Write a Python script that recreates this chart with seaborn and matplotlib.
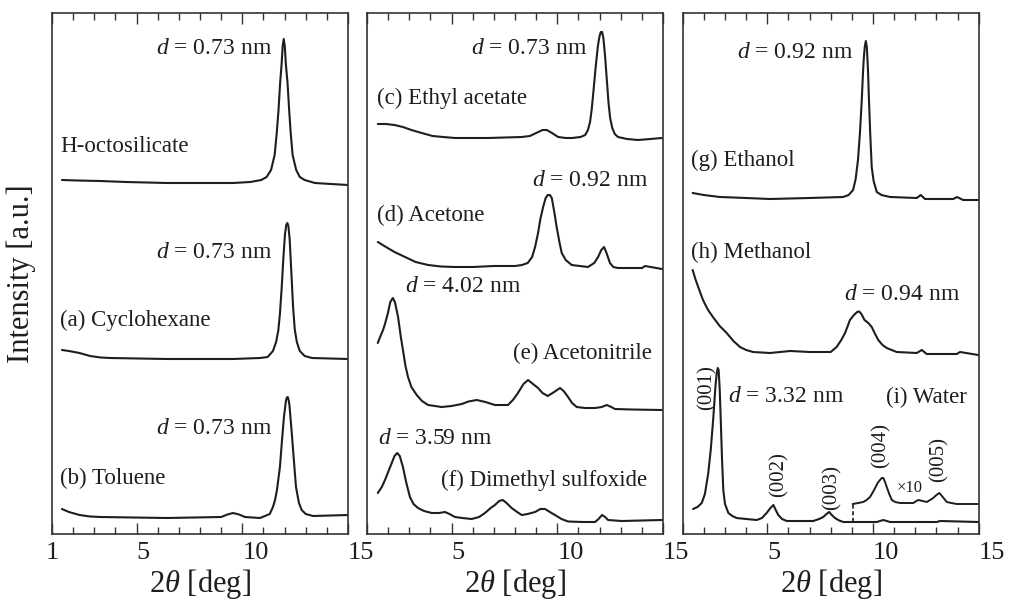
import matplotlib
matplotlib.use("Agg")
import matplotlib.pyplot as plt
import seaborn as sns
import pandas as pd

# ---------------- data (2theta in deg, intensity in a.u., stacked) ----------------
octo_x = [1.47, 2.2, 3.27, 4.5, 6.44, 9.56, 10.37, 10.9, 11.15, 11.36, 11.53, 11.63, 11.71, 11.79, 11.86,
          11.91, 11.96, 12.01, 12.06, 12.14, 12.22, 12.29, 12.38, 12.55, 12.72, 12.95, 13.44, 14.2, 15.0]
octo_y = [354, 353.5, 353, 352, 351, 351, 352, 354, 357, 364, 379, 401, 423, 451, 470,
          488, 495, 488, 470, 451, 423, 401, 379, 364, 357, 354, 351, 350, 349]

cyclo_x = [1.47, 1.8, 2.3, 2.8, 3.3, 3.74, 6.44, 9.56, 10.84, 11.2, 11.45, 11.6, 11.7, 11.78, 11.86,
           11.94, 12.02, 12.08, 12.13, 12.18, 12.24, 12.32, 12.40, 12.48, 12.58, 12.72, 12.95, 13.3, 15.0]
cyclo_y = [184, 183, 181, 178, 176.5, 176, 175, 175, 176, 177, 183, 192, 203, 220, 245,
           275, 300, 309, 311, 308, 295, 262, 228, 205, 192, 183, 178, 176, 175]

tol_x = [1.47, 1.8, 2.3, 2.8, 3.27, 6.44, 9.0, 9.3, 9.56, 9.85, 10.13, 10.84, 11.3, 11.45, 11.55, 11.64,
         11.78, 11.88, 11.97, 12.07, 12.11, 12.15, 12.19, 12.23, 12.34, 12.45, 12.54, 12.68, 12.81, 13.0,
         13.35, 15.0]
tol_y = [25, 22, 19, 17.5, 17, 16, 17, 19.5, 21, 19.5, 17, 16, 20, 27, 34, 44,
         67, 94, 117, 134, 136.5, 137, 134, 129, 101, 71, 47, 31, 24, 20,
         18, 19]

etac_x = [1.51, 1.9, 2.3, 2.7, 3.1, 3.59, 4.1, 4.6, 5.16, 6.72, 8.32, 8.7, 9.0, 9.3, 9.5, 9.75, 10.04,
          10.4, 10.7, 11.1, 11.32, 11.45, 11.55, 11.63, 11.72, 11.82, 11.92, 12.0, 12.06, 12.12, 12.18,
          12.26, 12.34, 12.42, 12.5, 12.6, 12.72, 12.87, 13.3, 13.82, 14.4, 14.95]
etac_y = [410, 410, 409, 407, 404, 401, 398, 397, 396, 396, 397, 398, 401, 404, 404, 401, 397,
          396, 396, 397, 399, 404, 412, 425, 445, 468, 488, 498, 502, 502, 496,
          478, 455, 432, 416, 406, 400, 397, 395, 394, 395, 396]

acet_x = [1.51, 1.9, 2.3, 2.8, 3.3, 3.89, 4.5, 5.16, 6.0, 7.0, 8.0, 8.33, 8.6, 8.81, 8.95, 9.09, 9.2,
          9.33, 9.45, 9.55, 9.65, 9.74, 9.85, 9.97, 10.1, 10.21, 10.4, 10.68, 11.45, 11.75, 11.93, 12.08,
          12.21, 12.33, 12.49, 12.65, 12.87, 14.01, 14.15, 14.95]
acet_y = [292, 287, 282, 277, 272, 269, 267.5, 267, 267, 268, 268, 269, 271, 277, 287, 301, 315,
          327, 336, 339, 339, 336, 323, 307, 292, 281, 274, 269, 267, 271, 277, 284,
          287, 281, 271, 267, 266, 266, 268, 265]

acn_x = [1.51, 1.6, 1.76, 1.85, 1.99, 2.1, 2.22, 2.32, 2.47, 2.6, 2.70, 2.82, 2.94, 3.1, 3.35, 3.6, 3.89,
         4.53, 5.0, 5.48, 5.8, 6.19, 6.6, 7.05, 7.67, 7.9, 8.14, 8.4, 8.62, 8.85, 9.09, 9.3, 9.55, 9.85,
         10.13, 10.3, 10.51, 10.7, 10.92, 11.3, 11.79, 12.1, 12.34, 12.55, 12.73, 13.5, 14.94]
acn_y = [191, 196, 204, 210, 221, 232, 236, 232, 217, 197, 184, 168, 157, 147, 139, 133, 129,
         127, 128, 130, 132.5, 134, 132, 129, 129, 134, 141, 150, 154, 150, 146, 141, 138, 142,
         146, 143, 137, 131, 127, 126, 126, 127, 129, 127, 125, 124.5, 124]

dmso_x = [1.51, 1.7, 1.85, 2.0, 2.17, 2.3, 2.43, 2.55, 2.70, 2.85, 3.03, 3.2, 3.41, 3.7, 4.06, 4.4,
          4.69, 4.9, 5.16, 5.5, 5.95, 6.3, 6.58, 6.85, 7.05, 7.25, 7.42, 7.6, 7.84, 8.1, 8.32, 8.6,
          8.95, 9.2, 9.42, 9.65, 9.89, 10.2, 10.51, 11.2, 11.79, 11.95, 12.12, 12.26, 12.40, 13.05, 14.94]
dmso_y = [41, 47, 54, 62, 71, 78, 81, 78, 67, 52, 37, 30, 26, 23, 21, 21,
          22, 20, 17, 16, 15, 17, 21, 26, 29, 33, 34, 31, 26, 22, 19, 20,
          22, 25, 25, 22, 19, 15, 12.5, 12, 12, 15, 19, 17, 14, 13, 14]

etoh_x = [1.47, 2.0, 2.76, 4.0, 5.13, 7.0, 8.58, 8.85, 9.06, 9.18, 9.29, 9.38, 9.47, 9.52, 9.56, 9.61,
          9.66, 9.71, 9.74, 9.77, 9.81, 9.87, 9.94, 10.03, 10.18, 10.4, 10.81, 12.07, 12.26, 12.46, 13.79,
          13.98, 14.26, 14.97]
etoh_y = [341, 339, 337, 336, 335, 336, 337, 339, 344, 355, 374, 400, 434, 458, 474, 487,
          493, 487, 474, 460, 434, 400, 367, 353, 342, 339, 337, 336, 339, 335, 335,
          337, 334, 334]

meoh_x = [1.47, 1.6, 1.75, 1.96, 2.2, 2.43, 2.75, 3.08, 3.4, 3.71, 4.0, 4.33, 5.13, 6.08, 7.02, 8.0,
          8.28, 8.5, 8.68, 8.91, 9.1, 9.25, 9.35, 9.45, 9.6, 9.78, 9.94, 10.1, 10.25, 10.45, 10.65, 11.12,
          12.07, 12.31, 12.54, 13.96, 14.12, 14.98]
meoh_y = [264, 255, 246, 234, 224, 217, 208, 201, 193, 187, 184, 182, 181, 183, 182, 182,
          187, 194, 201, 214, 219, 222, 222.5, 220, 214, 211, 207, 200, 194, 189, 186, 182,
          181, 184, 180, 180, 182, 179]

water_x = [1.49, 1.7, 1.9, 2.05, 2.21, 2.33, 2.45, 2.55, 2.61, 2.66, 2.70, 2.75, 2.80, 2.86, 2.92, 3.0,
           3.16, 3.35, 3.55, 4.0, 4.5, 4.75, 4.97, 5.15, 5.29, 5.4, 5.52, 5.7, 5.92, 7.18, 7.45, 7.65,
           7.8, 7.93, 8.05, 8.20, 8.4, 8.60, 10.18, 10.49, 10.81, 13.02, 13.17, 14.98]
water_y = [25, 27, 31, 40, 61, 85, 117, 148, 161, 166, 164, 145, 114, 75, 44, 30,
           21, 18, 16, 15, 14, 16, 21, 26, 29, 24, 19, 15, 13, 13, 15, 17,
           20, 22, 19, 16, 13.5, 12, 12, 14, 12, 12, 13, 12]

water10_x = [9.04, 9.3, 9.54, 9.7, 9.86, 10.0, 10.10, 10.22, 10.33, 10.42, 10.49, 10.57, 10.65, 10.77,
             10.89, 11.05, 11.28, 11.6, 11.91, 12.05, 12.15, 12.35, 12.54, 12.7, 12.85, 13.0, 13.14,
             13.3, 13.49, 13.7, 13.96, 14.98]
water10_y = [30, 31, 32, 34, 37, 42, 46, 51, 54, 56, 56, 52, 47, 40,
             34, 32, 31, 31, 31, 33, 34, 33, 32, 34, 36, 39, 41,
             37, 32, 31, 30, 30]
water10_dash_x = [9.04, 9.04]
water10_dash_y = [12, 30]

tick_values = [1, 5, 10, 15]
tick_labels_first = ["1", "5", "10", "15"]
tick_labels_other = ["", "5", "10", "15"]

# ---------------- style ----------------
sns.set_theme(style="ticks")
plt.rcParams["font.family"] = ["Liberation Serif", "DejaVu Serif"]
plt.rcParams["mathtext.fontset"] = "custom"
plt.rcParams["mathtext.rm"] = "Liberation Serif"
plt.rcParams["mathtext.it"] = "Liberation Serif:italic"
plt.rcParams["mathtext.bf"] = "Liberation Serif:bold"

INK = "#1e1e1e"
W, H = 1010, 604
fig = plt.figure(figsize=(W / 100, H / 100), dpi=100)

lefts = [52, 367, 682.7]
axes = []
for lp in lefts:
    ax = fig.add_axes([lp / W, (H - 534) / H, 296 / W, 521 / H])
    axes.append(ax)

def curve(ax, xs, ys, ls="-", lw=1.5):
    df = pd.DataFrame({"x": xs, "y": ys})
    sns.lineplot(data=df, x="x", y="y", ax=ax, color=INK, lw=lw, linestyle=ls,
                 estimator=None, sort=False, legend=False)

curve(axes[0], octo_x, octo_y)
curve(axes[0], cyclo_x, cyclo_y)
curve(axes[0], tol_x, tol_y)
curve(axes[1], etac_x, etac_y)
curve(axes[1], acet_x, acet_y)
curve(axes[1], acn_x, acn_y)
curve(axes[1], dmso_x, dmso_y)
curve(axes[2], etoh_x, etoh_y)
curve(axes[2], meoh_x, meoh_y)
curve(axes[2], water_x, water_y)
curve(axes[2], water10_x, water10_y, lw=1.4)
curve(axes[2], water10_dash_x, water10_dash_y, ls=(0, (2.5, 1.5)), lw=1.2)

for i, ax in enumerate(axes):
    ax.set_xlim(1, 15)
    ax.set_ylim(0, 521)
    ax.set_yticks([])
    ax.set_xticks(tick_values)
    ax.set_xticks(range(2, 15), minor=True)
    ax.set_xticklabels(tick_labels_first if i == 0 else tick_labels_other)
    ax.tick_params(axis="x", which="both", direction="in", top=True, bottom=True,
                   color="#333333", width=1.0)
    ax.tick_params(axis="x", which="major", length=8, labelsize=19, pad=6, labelcolor=INK)
    ax.tick_params(axis="x", which="minor", length=5)
    for lab in ax.get_xticklabels():
        if lab.get_text() not in ("1", ""):
            lab.set_horizontalalignment("left")
    for s in ax.spines.values():
        s.set_linewidth(1.2)
        s.set_color("#333333")
    ax.set_xlabel(r"2$\theta$ [deg]", fontsize=22, color=INK, labelpad=2)
    ax.set_ylabel("")

fig.text(21 / W, 0.5 * ((H - 534) + (H - 13)) / H, "Intensity [a.u.]", rotation=90,
         fontsize=22, color=INK, ha="center", va="center")

LBL = 16.5
DSZ = 17

def t(ax, x, y, s, ha="left", size=LBL, rot=0):
    ax.text(x, y, s, ha=ha, va="center", fontsize=size, color=INK, rotation=rot)

a0, a1, a2 = axes
t(a0, 11.41, 486, r"$d$ = 0.73 nm", ha="right", size=DSZ)
t(a0, 1.38, 387, "H-octosilicate")
t(a0, 11.41, 281, r"$d$ = 0.73 nm", ha="right", size=DSZ)
t(a0, 1.38, 214, "(a) Cyclohexane")
t(a0, 11.41, 106, r"$d$ = 0.73 nm", ha="right", size=DSZ)
t(a0, 1.38, 56, "(b) Toluene")

t(a1, 11.41, 486, r"$d$ = 0.73 nm", ha="right", size=DSZ)
t(a1, 1.46, 436, "(c) Ethyl acetate")
t(a1, 14.29, 354, r"$d$ = 0.92 nm", ha="right", size=DSZ)
t(a1, 1.46, 319, "(d) Acetone")
t(a1, 2.80, 248, r"$d$ = 4.02 nm", size=DSZ)
t(a1, 14.48, 181, "(e) Acetonitrile", ha="right")
t(a1, 1.52, 96, r"$d$ = 3.59 nm", size=DSZ)
t(a1, 14.24, 54, "(f) Dimethyl sulfoxide", ha="right")

t(a2, 9.06, 481, r"$d$ = 0.92 nm", ha="right", size=DSZ)
t(a2, 1.38, 374, "(g) Ethanol")
t(a2, 1.38, 282, "(h) Methanol")
t(a2, 14.1, 240, r"$d$ = 0.94 nm", ha="right", size=DSZ)
t(a2, 3.14, 137, r"$d$ = 3.32 nm", size=DSZ)
t(a2, 14.45, 137, "(i) Water", ha="right")
t(a2, 2.13, 146, "(001)", ha="center", size=15, rot=90)
t(a2, 5.55, 59, "(002)", ha="center", size=15, rot=90)
t(a2, 8.05, 46, "(003)", ha="center", size=15, rot=90)
t(a2, 10.37, 89, "(004)", ha="center", size=15, rot=90)
t(a2, 13.14, 74, "(005)", ha="center", size=15, rot=90)
t(a2, 11.75, 46, "×10", ha="center", size=12)

fig.savefig("out.png", dpi=100)
